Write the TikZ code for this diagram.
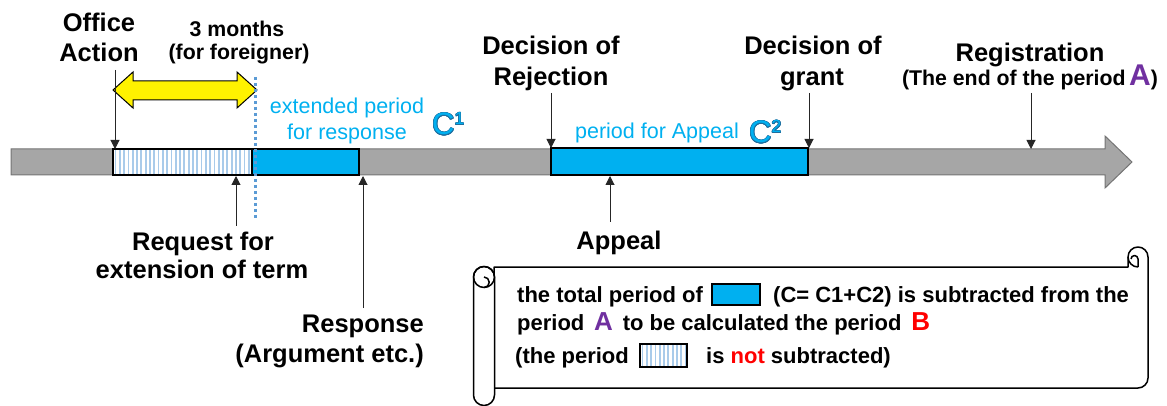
\documentclass[tikz,border=0pt]{standalone}
\usepackage{fontspec}
\setmainfont{Liberation Sans}
\usepackage{contour}
\usetikzlibrary{arrows.meta}

\definecolor{bargray}{HTML}{A6A6A6}
\definecolor{periodcyan}{HTML}{00B0F0}
\definecolor{hatchblue}{HTML}{A9CBEA}
\definecolor{dotblue}{HTML}{5B9BD5}
\definecolor{cdark}{HTML}{1F6E9E}
\definecolor{periodA}{HTML}{7030A0}
\contourlength{0.6pt}

\newcommand{\bigC}[1]{\textcolor{periodcyan}{\contour{cdark}{\fontsize{31}{31}\selectfont C\raisebox{10pt}{\fontsize{17.5}{17.5}\selectfont #1}}}}

\begin{document}
\begin{tikzpicture}[
		x = 1pt, y = -1pt,
		lbl/.style = {anchor = base, inner sep = 0pt, font = \bfseries\fontsize{25.5}{28}\selectfont},
		sublbl/.style = {anchor = base, inner sep = 0pt, font = \bfseries\fontsize{21.3}{24}\selectfont},
		bluetxt/.style = {anchor = base, inner sep = 0pt, text = periodcyan, font = \fontsize{21.5}{24}\selectfont},
		boxtxt/.style = {anchor = base west, inner sep = 0pt, font = \bfseries\fontsize{22}{24}\selectfont},
		pointer/.style = {-{Triangle[length = 9pt, width = 9pt]}, line width = 1pt, black!85},
		scroll/.style = {line width = 1.5pt, line join = round}
	]

	\useasboundingbox (0,0) rectangle (1167,406);

	% time line
	\draw[fill = bargray, draw = bargray!70!black, line width = 1pt] (11,149) -- (1105,149) -- (1105,136) -- (1132,162) -- (1105,188) -- (1105,175) -- (11,175) -- cycle;

	\fill[white] (113,149) rectangle (252,175);
	\foreach \x in {115.5,119.8,...,250}
		\draw[hatchblue, line width = 1.8pt] (\x,150) -- (\x,174);
	\draw[line width = 1.2pt] (113,149) rectangle (252,175);
	\draw[fill = periodcyan, line width = 1.2pt] (252,149) rectangle (359,175);
	\draw[fill = periodcyan, line width = 1.2pt] (551,148) rectangle (808,175);

	% 3 months
	\draw[fill = yellow, line width = 1pt] (113,90) -- (133,72) -- (133,81) -- (237,81) -- (237,72) -- (257,90) -- (237,108) -- (237,100) -- (133,100) -- (133,108) -- cycle;
	\draw[dotblue, line width = 3pt, dash pattern = on 3pt off 3pt] (255,77) -- (255,218);

	% labels above
	\node[lbl] (oa1) at (99,32) {Office};
	\node[lbl] (oa2) at (99,62) {Action};
	\node[sublbl] (tm1) at (237,37) {3 months};
	\node[sublbl] (tm2) at (239,60) {(for foreigner)};
	\node[lbl] (rej1) at (551,55) {Decision of};
	\node[lbl] (rej2) at (551,86) {Rejection};
	\node[lbl] (gr1) at (813,55) {Decision of};
	\node[lbl] (gr2) at (812,86) {grant};
	\node[lbl] (reg1) at (1030,62) {Registration};
	\node[sublbl] (reg2) at (1030,86) {(The end of the period\,{\textcolor{periodA}{\fontsize{30}{30}\selectfont A}})};

	\node[bluetxt] (ext1) at (347,114) {extended period};
	\node[bluetxt] (ext2) at (347,140) {for response};
	\node[anchor = base west, inner sep = 0pt] (c1) at (432,135) {\bigC{1}};
	\node[bluetxt] (app) at (657,139) {period for Appeal};
	\node[anchor = base west, inner sep = 0pt] (c2) at (749,143) {\bigC{2}};

	% labels below
	\node[lbl] (req1) at (203,250) {Request for};
	\node[lbl] (req2) at (202,278) {extension of term};
	\node[lbl, anchor = base east] (res1) at (424,332) {Response};
	\node[lbl, anchor = base east] (res2) at (424,362) {(Argument etc.)};
	\node[lbl] (ap) at (619,249) {Appeal};

	% pointers
	\coordinate (oa top) at (115,70);   \coordinate (oa bar) at (115,149);
	\coordinate (rej top) at (551,93);  \coordinate (rej bar) at (551,148);
	\coordinate (gr top) at (809,93);   \coordinate (gr bar) at (809,148);
	\coordinate (reg top) at (1031,93); \coordinate (reg bar) at (1031,149);
	\coordinate (req low) at (236,226); \coordinate (req bar) at (236,176);
	\coordinate (res low) at (363,308); \coordinate (res bar) at (363,176);
	\coordinate (ap low) at (610,222);  \coordinate (ap bar) at (610,176);
	\foreach \p in {oa,rej,gr,reg}
		\draw[pointer] (\p\space top) -- (\p\space bar);
	\foreach \p in {req,res,ap}
		\draw[pointer] (\p\space low) -- (\p\space bar);

	% scroll
	\draw[scroll, fill = white] (494,388) -- (1138,388) arc[start angle = 90, end angle = 0, radius = 10] -- (1148,257) arc[start angle = 0, end angle = -180, radius = 10] -- (1128,267) -- (494,267) -- cycle;
	\draw[scroll] (1128,257) arc[start angle = 180, end angle = 90, radius = 10];
	\draw[scroll] (1138,267) -- (1138,259) arc[start angle = 0, end angle = -180, radius = 3.5];
	\draw[scroll, fill = white] (473.5,277) -- (473.5,395) arc[start angle = 180, end angle = 0, radius = 10.5] -- (494.5,277) arc[start angle = 0, end angle = -180, radius = 10.5] -- cycle;
	\draw[scroll] (484,277) circle[radius = 10.5];
	\draw[scroll] (484,287.5) arc[start angle = 90, end angle = -90, radius = 5.25];

	% scroll text
	\node[boxtxt] (l1a) at (517,302) {the total period of};
	\draw[fill = periodcyan, line width = 1.2pt] (712,284) rectangle (760,305);
	\node[boxtxt] (l1b) at (773,302) {(C= C1+C2) is subtracted from the};
	\node[boxtxt] (l2) at (517,330) {period\, {\textcolor{periodA}{\fontsize{26}{26}\selectfont A}}\, to be calculated the period\, {\textcolor{red}{\fontsize{26}{26}\selectfont B}}};
	\node[boxtxt] (l3a) at (515,363) {(the period};
	\fill[white] (640,344) rectangle (687,367);
	\foreach \x in {642.5,646.8,...,686}
		\draw[hatchblue, line width = 1.8pt] (\x,345) -- (\x,366);
	\draw[line width = 1.2pt] (640,344) rectangle (687,367);
	\node[boxtxt] (l3b) at (706,363) {is \textcolor{red}{not} subtracted)};

\end{tikzpicture}
\end{document}
